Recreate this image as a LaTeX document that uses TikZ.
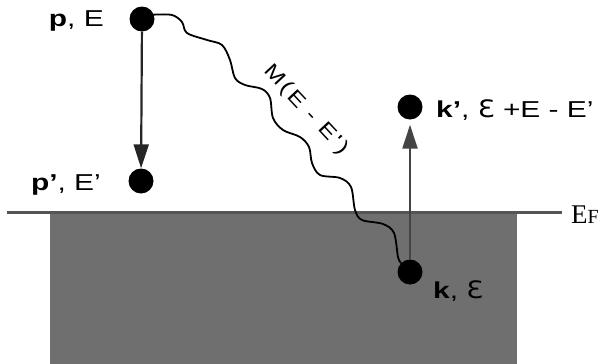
\documentclass[tikz,border=0pt]{standalone}
\usepackage{fontspec}
\setmainfont[FakeStretch=1.3]{Liberation Sans}
\newfontfamily\epsfont[FakeStretch=1.15]{DejaVu Sans}
\newfontfamily\fermifont{Liberation Serif}
\newfontfamily\wavefont[FakeStretch=1.25,LetterSpace=14]{Liberation Sans}
\usetikzlibrary{arrows.meta}
\definecolor{sea}{HTML}{6F6F6F}
\definecolor{level}{HTML}{555555}
\tikzset{
  state/.style={circle,fill=black,inner sep=0pt,minimum size=25pt},
  lbl/.style={inner sep=0pt,font=\fontsize{23}{27}\selectfont},
  transition/.style={line width=2.2pt,draw=#1,
    -{Triangle[length=24pt,width=15pt,fill=#1]}},
  wave/.style={line width=1.8pt,black,line join=round,line cap=round}
}
\begin{document}
\begin{tikzpicture}[x=1pt,y=-1pt]
\useasboundingbox (0,0) rectangle (605,364);
% filled Fermi sea and its surface
\fill[sea] (50,212) rectangle (517,364);
\draw[level,line width=3pt] (7,212) -- (562,212);
\node[anchor=base west,inner sep=0pt] (ef) at (571,223)
  {\fermifont\fontsize{27}{30}\selectfont E\fontsize{20}{22}\selectfont F};
% electron states
\node[state] (p)  at (142,19)  {};
\node[state] (pp) at (141,181) {};
\node[state] (kp) at (410,107) {};
\node[state] (k)  at (410,272) {};
% labels
\node[lbl,anchor=base east] (pl)  at (104,27)  {\textbf{p}, E};
\node[lbl,anchor=base east] (ppl) at (101,190) {\textbf{p'}, E'};
\node[lbl,anchor=base west] (kpl) at (436,117)
  {\textbf{k'}, {\epsfont\fontsize{24}{27}\selectfont Ɛ} +E - E'};
\node[lbl,anchor=base west] (kl)  at (433,298)
  {\textbf{k}, {\epsfont\fontsize{24}{27}\selectfont Ɛ}};
% transitions
\draw[transition=black!85] (p) -- (pp);
\draw[transition=level!80!black,shorten >=5pt] (k) -- (kp);
% interaction line
\draw[wave] plot[smooth,tension=0.55] coordinates {
  (p.20) (172,15) (182,22) (187,33) (207,40) (222,45) (230,60) (235,78)
  (245,85) (262,89) (270,98) (273,118) (283,130) (300,137) (309,147)
  (312,163) (320,175) (340,178) (351,187) (355,210) (362,220) (383,224)
  (394,233) (398,257) (k.135)};
\node[rotate=-47,inner sep=0pt,font=\wavefont\fontsize{20}{23}\selectfont]
  (ml) at (306,110) {M(E - E')};
\end{tikzpicture}
\end{document}
